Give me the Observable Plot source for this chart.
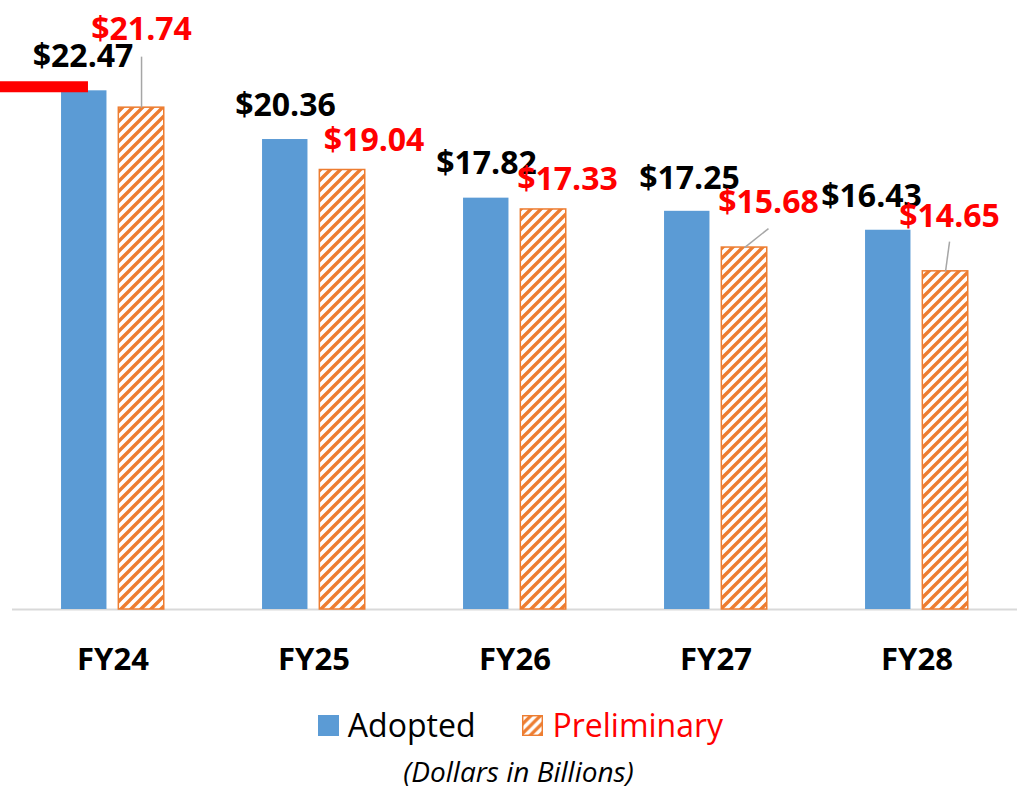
<!DOCTYPE html>
<html><head><meta charset="utf-8">
<script src="https://cdn.jsdelivr.net/npm/d3@7"></script>
<script src="https://cdn.jsdelivr.net/npm/@observablehq/plot@0.6"></script>
<style>
body{margin:0;background:#fff;font-family:"Open Sans",sans-serif;}
#wrap{width:1021px;height:789px;overflow:hidden;}
.legend{display:flex;justify-content:center;align-items:center;height:64px;padding-top:6px;box-sizing:border-box;padding-left:20px;font-size:32px;line-height:40px;}
.item{display:flex;align-items:center;}
.sw{width:21px;height:21px;margin-right:9px;display:inline-block;}
.caption{text-align:center;font-style:italic;font-size:28px;line-height:34px;padding-left:16px;color:#000;}
</style></head><body>
<div id="wrap"><div id="chart"></div>
<div class="legend">
  <div class="item"><span class="sw" style="background:#5b9bd5"></span><span style="color:#000">Adopted</span></div>
  <div class="item" style="margin-left:47px"><svg class="sw" width="22" height="22" viewBox="0 0 22 22"><defs><pattern id="hatchL" width="10" height="10" patternUnits="userSpaceOnUse"><path d="M-2.5,2.5 l5,-5 M0,10 l10,-10 M7.5,12.5 l5,-5" stroke="#ed7d31" stroke-width="3.4"/></pattern></defs><rect x="0.75" y="0.75" width="20.5" height="20.5" fill="url(#hatchL)" stroke="#ed7d31" stroke-width="1.5"/></svg><span style="color:#ff0000">Preliminary</span></div>
</div>
<div class="caption">(Dollars in Billions)</div>
</div>
<script>
const categories = ["FY24", "FY25", "FY26", "FY27", "FY28"];
const adopted = [22.47, 20.36, 17.82, 17.25, 16.43];
const preliminary = [21.74, 19.04, 17.33, 15.68, 14.65];

// annotation layout (data units) for the manually placed value labels
const adoptedLabelX = [-0.149, 0.858, 1.858, 2.868, 3.774];
const adoptedLabelY = [23.95, 21.83, 19.29, 18.67, 17.86];
const prelimLabelX = [0.142, 1.299, 2.261, 3.261, 4.162];
const prelimLabelY = [25.10, 20.31, 18.62, 17.60, 17.02];
const leaderIndex = [0, 3, 4];
const leaderFromX = [0.142, 3.261, 4.162];
const leaderFromY = [23.95, 16.50, 15.94];
const redMarker = [22.65];

const offA = -0.143, offP = 0.142, half = 0.113;
const idx = categories.map((c, i) => i);
const adoptedRows = idx.map(i => ({i, value: adopted[i]}));
const prelimRows = idx.map(i => ({i, value: preliminary[i]}));
const adoptedLabels = idx.map(i => ({x: adoptedLabelX[i], y: adoptedLabelY[i], t: "$" + adopted[i].toFixed(2)}));
const prelimLabels = idx.map(i => ({x: prelimLabelX[i], y: prelimLabelY[i], t: "$" + preliminary[i].toFixed(2)}));
const leaders = leaderIndex.map((i, k) => ({x1: leaderFromX[k], y1: leaderFromY[k], x2: i + offP, y2: preliminary[i]}));

const chart = Plot.plot({
  width: 1021, height: 690,
  marginLeft: 12, marginRight: 4, marginTop: 55, marginBottom: 81,
  style: {fontFamily: "Open Sans, sans-serif", background: "#fff"},
  x: {domain: [-0.5, 4.5], axis: null},
  y: {domain: [0, 24], axis: null},
  marks: [
    Plot.ruleY([0], {stroke: "#d9d9d9", strokeWidth: 2}),
    Plot.rectY(adoptedRows, {x1: d => d.i + offA - half, x2: d => d.i + offA + half, y1: 0, y2: "value", fill: "#5b9bd5"}),
    Plot.rectY(prelimRows, {x1: d => d.i + offP - half, x2: d => d.i + offP + half, y1: 0, y2: "value", fill: "url(#hatch)", stroke: "#ed7d31", strokeWidth: 1.5}),
    Plot.ruleY(redMarker, {x1: -0.56, x2: -0.122, stroke: "#ff0000", strokeWidth: 11}),
    Plot.link(leaders, {x1: "x1", y1: "y1", x2: "x2", y2: "y2", stroke: "#a6a6a6", strokeWidth: 1.5}),
    Plot.text(adoptedLabels, {x: "x", y: "y", text: "t", fill: "#000", fontSize: 32, fontWeight: "bold", lineAnchor: "middle"}),
    Plot.text(prelimLabels, {x: "x", y: "y", text: "t", fill: "#ff0000", fontSize: 32, fontWeight: "bold", lineAnchor: "middle"}),
    Plot.axisX(idx, {tickFormat: i => categories[i], tickSize: 0, tickPadding: 38, fontSize: 31, fontWeight: "bold", fill: "#000"})
  ]
});
d3.select(chart).insert("defs", ":first-child").html('<pattern id="hatch" width="10" height="10" patternUnits="userSpaceOnUse"><rect width="10" height="10" fill="#fff"/><path d="M-2.5,2.5 l5,-5 M0,10 l10,-10 M7.5,12.5 l5,-5" stroke="#ed7d31" stroke-width="3.4"/></pattern>');
document.getElementById("chart").appendChild(chart);
</script>
</body></html>
